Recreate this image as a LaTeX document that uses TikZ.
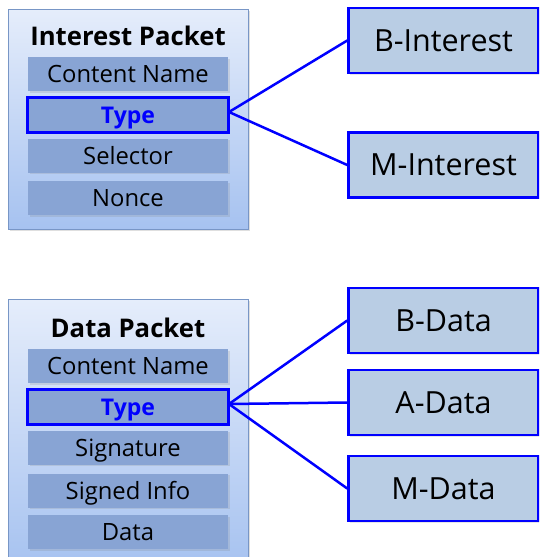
\documentclass[tikz,border=0pt]{standalone}
\usepackage{fontspec}
\setmainfont{Open Sans}
\usetikzlibrary{shadows}
\definecolor{outerTop}{RGB}{229,237,251}
\definecolor{outerBot}{RGB}{166,194,240}
\definecolor{outerLine}{RGB}{120,150,198}
\definecolor{barFill}{RGB}{136,164,212}
\definecolor{leafFill}{RGB}{185,205,228}
\definecolor{linkBlue}{RGB}{0,0,255}
\begin{document}
\begin{tikzpicture}[x=1pt,y=-1pt,
  outerbox/.style={draw=outerLine, line width=1pt, top color=outerTop, bottom color=outerBot,
    drop shadow={opacity=0.25, shadow xshift=2pt, shadow yshift=-2pt}, inner sep=0pt},
  title/.style={font=\fontsize{25.7}{28}\selectfont\bfseries, anchor=base},
  bar/.style={fill=barFill, minimum width=200pt, minimum height=34pt, inner sep=0pt,
    text height=17pt, text depth=0pt, font=\fontsize{23.8}{26}\selectfont,
    drop shadow={opacity=0.2, shadow xshift=1.5pt, shadow yshift=-1.5pt}},
  typebar/.style={bar, draw=linkBlue, line width=3pt, minimum width=201pt, minimum height=35pt,
    text height=16.5pt, text=linkBlue, font=\fontsize{23}{26}\selectfont\bfseries},
  leaf/.style={draw=linkBlue, line width=2.5pt, fill=leafFill, minimum width=190pt, minimum height=65pt,
    inner sep=0pt, text height=21.5pt, text depth=0pt, font=\fontsize{30.5}{34}\selectfont,
    drop shadow={opacity=0.2, shadow xshift=1.5pt, shadow yshift=-1.5pt}},
  link/.style={draw=linkBlue, line width=2.5pt}]
\useasboundingbox (0,0) rectangle (539,557);
\clip (0,0) rectangle (539,557);
% Interest packet
\node[outerbox, minimum width=240pt, minimum height=220pt] (ipkt) at (128,119) {};
\node[title] (ititle) at (128,45) {Interest Packet};
\node[bar] (iname) at (128,74) {Content Name};
\node[typebar] (itype) at (128,115) {Type};
\node[bar] (isel) at (128,155.5) {Selector};
\node[bar] (inonce) at (128,198) {Nonce};
% Data packet
\node[outerbox, minimum width=240pt, minimum height=270pt] (dpkt) at (128,434) {};
\node[title] (dtitle) at (128,337) {Data Packet};
\node[bar] (dname) at (128,366) {Content Name};
\node[typebar] (dtype) at (128,407) {Type};
\node[bar] (dsig) at (128,447.5) {Signature};
\node[bar] (dinfo) at (128,490.5) {Signed Info};
\node[bar] (ddata) at (128,532) {Data};
% leaves
\node[leaf] (bint) at (443.5,40.5) {B-Interest};
\node[leaf] (mint) at (443.5,165) {M-Interest};
\node[leaf] (bdat) at (443.5,320.5) {B-Data};
\node[leaf] (adat) at (443.5,402.5) {A-Data};
\node[leaf] (mdat) at (443.5,488.5) {M-Data};
% links
\coordinate (ifan) at ([xshift=-1pt,yshift=3pt]itype.east);
\coordinate (dfan) at ([xshift=-1pt,yshift=3pt]dtype.east);
\draw[link] (ifan) -- (bint.west);
\draw[link] (ifan) -- (mint.west);
\draw[link] (dfan) -- (bdat.west);
\draw[link] (dfan) -- (adat.west);
\draw[link] (dfan) -- (mdat.west);
\end{tikzpicture}
\end{document}
